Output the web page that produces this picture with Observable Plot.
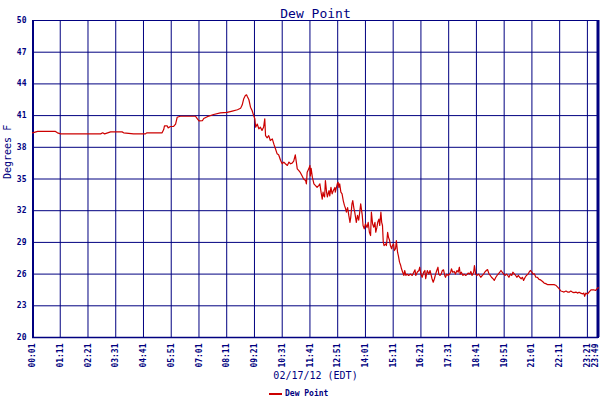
<!DOCTYPE html>
<html>
<head>
<meta charset="utf-8">
<script src="https://cdn.jsdelivr.net/npm/d3@7"></script>
<script src="https://cdn.jsdelivr.net/npm/@observablehq/plot@0.6"></script>
<style>
  html, body { margin: 0; padding: 0; background: #ffffff; }
  #wrap { position: relative; width: 600px; height: 400px; overflow: hidden; }
  #legend { position: absolute; left: 269px; top: 389px; font: bold 8px "DejaVu Sans Mono", monospace; color: #000080; white-space: nowrap; }
  #legend .sw { display: inline-block; width: 13px; height: 2px; background: #cc0000; vertical-align: middle; margin-right: 3px; }
</style>
</head>
<body>
<div id="wrap">
  <div id="chart"></div>
  <div id="legend"><span class="sw"></span><span>Dew Point</span></div>
</div>
<script>
const chartTitle = "Dew Point";
const seriesName = "Dew Point";
const xLabel = "02/17/12 (EDT)";
const yLabel = "Degrees F";

const times = [
"00:01","00:14","00:59","01:04","01:12","02:02","02:53","02:58","03:03","03:18",
"03:47","03:51","04:16","04:46","04:49","05:28","05:32","05:34","05:41","05:43",
"05:49","05:57","06:02","06:06","06:14","06:52","06:57","07:01","07:10","07:13",
"07:22","07:38","07:55","08:12","08:25","08:38","08:46","08:50","08:54","08:58",
"09:01","09:03","09:07","09:11","09:15","09:19","09:22","09:24","09:28","09:32",
"09:36","09:40","09:44","09:47","09:49","09:53","09:57","10:01","10:06","10:10",
"10:14","10:18","10:22","10:27","10:31","10:35","10:39","10:44","10:48","10:52",
"10:56","11:00","11:04","11:07","11:09","11:13","11:17","11:21","11:25","11:30",
"11:32","11:34","11:38","11:41","11:42","11:44","11:47","11:49","11:51","11:55",
"11:59","12:03","12:06","12:09","12:12","12:14","12:16","12:18","12:20","12:23",
"12:25","12:29","12:31","12:34","12:37","12:40","12:44","12:45","12:50","12:52",
"12:54","12:56","12:59","13:02","13:05","13:08","13:11","13:13","13:16","13:19",
"13:22","13:24","13:27","13:29","13:32","13:34","13:38","13:41","13:44","13:47",
"13:49","13:53","13:55","13:58","14:01","14:05","14:08","14:11","14:14","14:16",
"14:19","14:22","14:25","14:27","14:30","14:32","14:35","14:37","14:40","14:42",
"14:44","14:46","14:48","14:52","14:54","14:57","14:59","15:02","15:04","15:07",
"15:09","15:12","15:14","15:17","15:19","15:22","15:24","15:27","15:30","15:32",
"15:35","15:38","15:40","15:43","15:46","15:50","15:55","15:59","16:03","16:06",
"16:08","16:12","16:16","16:18","16:21","16:24","16:28","16:31","16:33","16:37",
"16:41","16:44","16:47","16:49","16:52","16:55","16:58","17:01","17:04","17:06",
"17:09","17:12","17:15","17:18","17:21","17:23","17:26","17:30","17:33","17:36",
"17:38","17:41","17:45","17:48","17:52","17:55","17:58","18:00","18:03","18:07",
"18:10","18:14","18:17","18:20","18:24","18:27","18:30","18:34","18:36","18:39",
"18:42","18:46","18:49","18:52","18:56","18:59","19:02","19:06","19:09","19:13",
"19:16","19:19","19:23","19:26","19:30","19:33","19:36","19:40","19:43","19:46",
"19:50","19:53","19:57","20:00","20:03","20:07","20:10","20:13","20:17","20:20",
"20:23","20:27","20:30","20:34","20:37","20:40","20:44","20:47","20:51","20:54",
"20:57","21:01","21:04","21:07","21:11","21:15","21:19","21:23","21:28","21:32",
"21:36","21:41","21:49","21:57","22:01","22:06","22:10","22:14","22:18","22:22",
"22:27","22:31","22:35","22:39","22:43","22:47","22:52","22:56","23:00","23:04",
"23:09","23:12","23:14","23:17","23:21","23:25","23:30","23:34","23:38","23:42",
"23:47","23:49"
];

const dewPoint = [
39.37,39.5,39.5,39.37,39.27,39.27,39.27,39.37,39.27,39.46,
39.46,39.37,39.27,39.27,39.37,39.37,39.68,40.03,40.03,39.84,
39.97,39.97,40.2,40.84,40.94,40.94,40.7,40.5,40.53,40.72,
40.9,41.1,41.26,41.3,41.42,41.55,41.7,42.0,42.6,42.9,
42.97,42.8,42.5,41.8,41.48,41.0,40.7,39.9,40.2,39.75,
39.9,39.6,39.9,40.7,39.1,38.9,39.1,38.64,38.8,38.3,
37.86,37.4,37.3,36.75,36.44,36.6,36.44,36.28,36.6,36.44,
36.5,36.7,37.29,36.5,35.96,35.8,35.6,35.3,35.0,34.86,
34.54,35.64,35.96,36.28,35.3,36.0,35.17,34.86,34.54,34.38,
34.22,34.38,34.54,33.75,33.1,33.75,33.4,33.3,34.86,33.75,
33.3,33.9,33.4,34.2,33.6,33.9,34.2,33.75,34.54,34.7,
34.2,34.54,33.75,33.6,32.96,32.5,32.18,31.86,32.3,31.55,
30.9,31.4,32.65,32.96,32.2,31.86,30.9,31.55,31.1,32.0,
32.65,31.55,30.6,30.29,30.76,30.4,30.9,29.96,29.65,31.86,
30.76,30.44,30.9,29.96,30.44,30.9,31.2,30.6,31.86,30.9,
30.6,29.02,28.7,28.86,28.7,29.96,29.5,29.18,28.7,28.4,
28.7,28.86,28.23,28.4,29.18,28.07,27.75,27.13,26.81,26.5,
26.18,25.87,26.34,25.87,26.0,25.87,26.0,25.87,26.18,26.4,
25.87,26.2,26.34,26.65,26.0,25.7,26.18,26.34,25.56,26.34,
26.0,26.34,25.87,25.56,25.23,25.56,26.0,26.34,26.65,26.0,
25.87,26.0,26.34,26.4,25.87,25.7,26.0,25.87,26.0,26.18,
26.5,26.18,26.25,26.0,26.34,26.18,26.65,26.0,26.18,25.87,
26.0,25.87,25.95,26.1,26.0,26.25,25.87,26.18,26.81,26.0,
25.87,26.0,25.87,25.7,25.87,26.0,26.18,26.34,26.43,26.0,
25.87,25.7,25.56,25.4,25.7,25.87,26.0,26.18,26.34,26.18,
26.0,25.87,26.0,25.87,25.7,26.0,25.87,26.18,26.0,25.87,
25.7,25.87,25.7,25.56,25.7,25.4,25.7,25.87,26.0,26.18,
26.34,26.18,26.0,26.03,25.7,25.7,25.5,25.45,25.3,25.14,
25.1,25.0,25.0,25.0,24.95,24.76,24.6,24.4,24.35,24.3,
24.4,24.3,24.29,24.4,24.3,24.25,24.3,24.2,24.29,24.2,
24.13,24.2,23.9,24.2,24.1,24.3,24.5,24.51,24.5,24.45,
24.7,24.7
];

const xTickLabels = ["00:01","01:11","02:21","03:31","04:41","05:51","07:01","08:11",
  "09:21","10:31","11:41","12:51","14:01","15:11","16:21","17:31","18:41","19:51",
  "21:01","22:11","23:21","23:49"];
const yTicks = [20,23,26,29,32,35,38,41,44,47,50];

const parse = s => new Date(Date.UTC(2012, 1, 17, +s.slice(0, 2), +s.slice(3, 5)));
const data = times.map((t, i) => ({time: parse(t), value: dewPoint[i]}));
const xTicks = xTickLabels.map(parse);
const lastTick = xTicks[xTicks.length - 1];
const fmt = d3.utcFormat("%H:%M");
const navy = "#000080";
const mono = "'DejaVu Sans Mono', monospace";
const tickStyle = {tickFormat: fmt, tickRotate: -90, tickSize: 0, tickPadding: 6,
  fill: navy, fontSize: 8, fontWeight: "bold", fontFamily: mono, label: null};

const chart = Plot.plot({
  width: 600,
  height: 400,
  marginLeft: 32,
  marginRight: 2,
  marginTop: 20,
  marginBottom: 63,
  style: {background: "#ffffff", color: navy, fontFamily: mono},
  x: {type: "utc", domain: [xTicks[0], lastTick]},
  y: {domain: [20, 50]},
  marks: [
    Plot.gridX(xTicks, {stroke: navy, strokeOpacity: 1, strokeWidth: 1}),
    Plot.gridY(yTicks, {stroke: navy, strokeOpacity: 1, strokeWidth: 1}),
    Plot.frame({stroke: navy, strokeWidth: 1}),
    Plot.ruleX([xTicks[0]], {stroke: navy, strokeWidth: 2, dx: 0.5}),
    Plot.ruleX([lastTick], {stroke: navy, strokeWidth: 3, dx: -0.5}),
    Plot.ruleY([20], {stroke: navy, strokeWidth: 1.5}),
    Plot.lineY(data, {x: "time", y: "value", stroke: "#cc0000", strokeWidth: 1.2}),
    Plot.axisX(xTicks.slice(0, -1), tickStyle),
    Plot.axisX([lastTick], {...tickStyle, dx: -3}),
    Plot.axisY(yTicks, {tickSize: 0, tickPadding: 6, fill: navy, fontSize: 8,
      fontWeight: "bold", fontFamily: mono, label: null}),
    Plot.text([chartTitle], {frameAnchor: "top", dy: -12, fill: navy, fontSize: 13, fontFamily: mono}),
    Plot.text([xLabel], {frameAnchor: "bottom", dy: 41, fill: navy, fontSize: 10, fontFamily: mono}),
    Plot.text([yLabel], {frameAnchor: "left", dx: -25, rotate: -90, fill: navy, fontSize: 10, fontFamily: mono})
  ]
});
document.getElementById("chart").appendChild(chart);
</script>
</body>
</html>
